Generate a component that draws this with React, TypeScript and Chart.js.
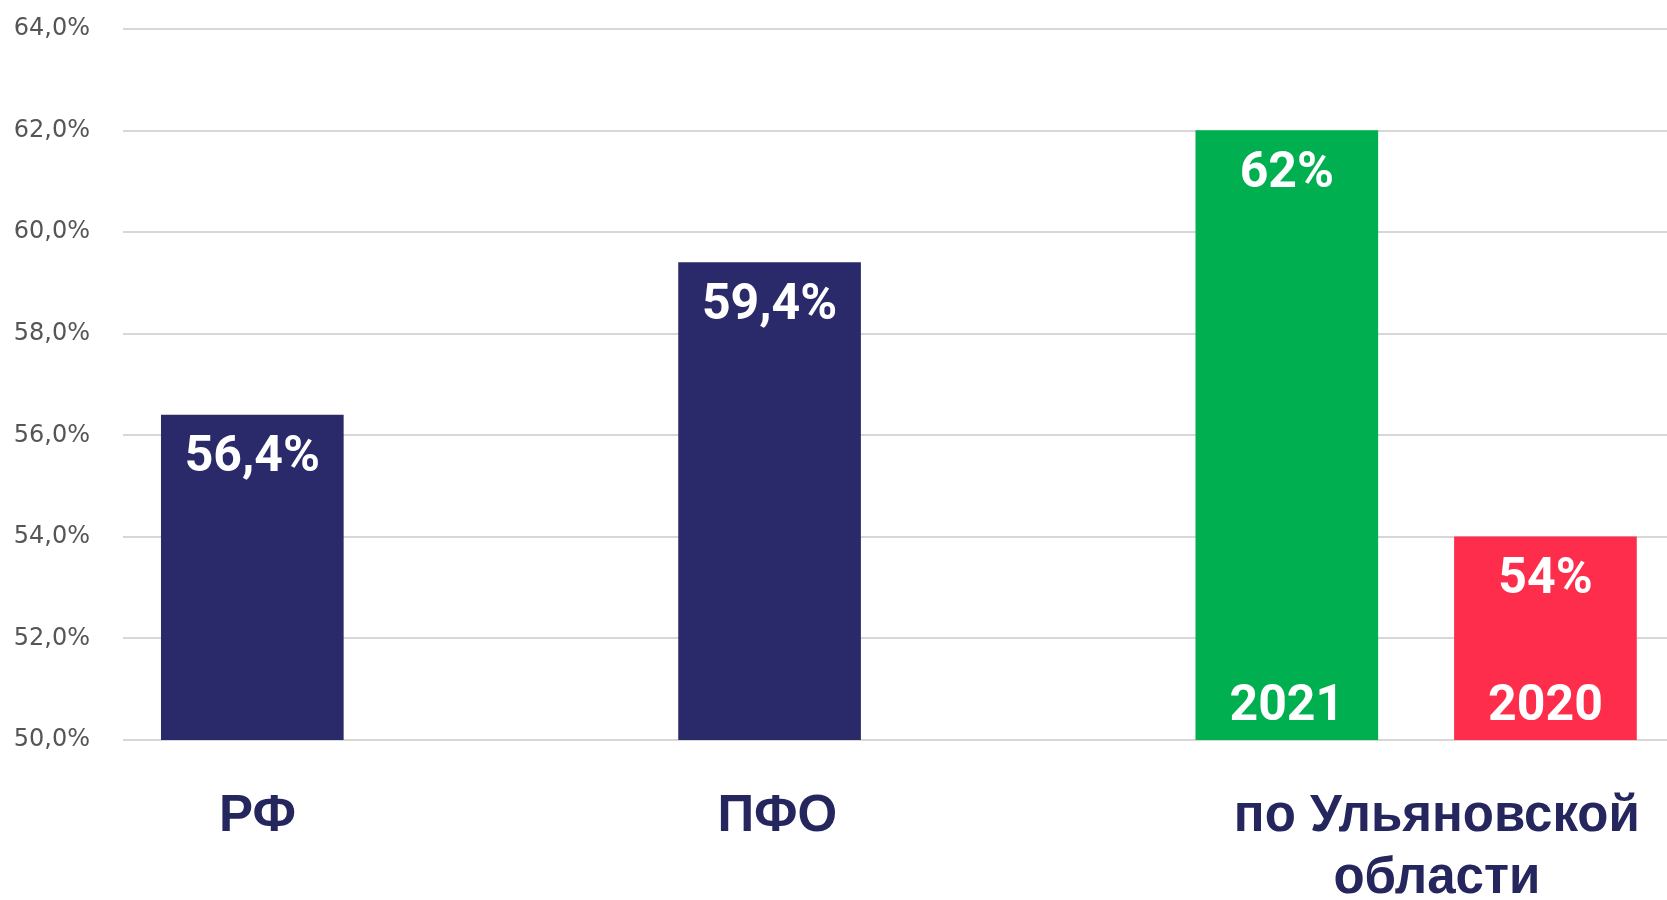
import React, { useEffect, useRef } from 'react';
import { Chart, registerables } from 'chart.js';

Chart.register(...registerables);

// ---- data ----
const barNames = ['РФ', 'ПФО', 'Ульяновская область 2021', 'Ульяновская область 2020'];
const barValues = [56.4, 59.4, 62, 54];
const barSlots = [0, 2, 4, 5];
const barYears = ['', '', '2021', '2020'];
const barColors = ['#2a2a6b', '#2a2a6b', '#00b050', '#fd2d4b'];
const groupLabels = [['РФ'], ['ПФО'], ['по Ульяновской', 'области']];
const groupSlots = [0.02, 2.03, 4.58];
const yMin = 50;
const yMax = 64;
const yStep = 2;

const fmtValue = (v: number) => String(v).replace('.', ',') + '%';
const fmtTick = (v: number) => v.toFixed(1).replace('.', ',') + '%';

const valueLabels = {
  id: 'valueLabels',
  afterDatasetsDraw(chart: any) {
    const ctx = chart.ctx;
    const meta = chart.getDatasetMeta(0);
    const base = chart.scales.y.getPixelForValue(yMin);
    ctx.save();
    ctx.fillStyle = '#ffffff';
    ctx.textAlign = 'center';
    ctx.textBaseline = 'middle';
    ctx.font = 'bold 50px Roboto';
    meta.data.forEach((bar: any, i: number) => {
      ctx.fillText(fmtValue(barValues[i]), bar.x, bar.y + 44);
      if (barYears[i]) ctx.fillText(barYears[i], bar.x, base - 33);
    });
    ctx.restore();
  },
};

export default function App() {
  const canvasRef = useRef<HTMLCanvasElement | null>(null);

  useEffect(() => {
    if (!canvasRef.current) return;
    const chart = new Chart(canvasRef.current, {
      type: 'bar',
      data: {
        labels: barNames,
        datasets: [
          {
            label: 'value',
            data: barValues.map((v, i) => ({ x: barSlots[i], y: v })),
            backgroundColor: barColors,
            borderWidth: 0,
            barThickness: 182,
          },
        ],
      },
      options: {
        animation: false,
        responsive: true,
        maintainAspectRatio: false,
        devicePixelRatio: 1,
        layout: { padding: { top: 29, left: 0, right: 0, bottom: 0 } },
        plugins: {
          legend: { display: false },
          tooltip: { enabled: false },
        },
        scales: {
          x: {
            type: 'linear',
            min: -0.5,
            max: 5.47,
            offset: false,
            bounds: 'data',
            grid: { display: false, drawTicks: false },
            border: { display: false },
            afterBuildTicks: (s: any) => {
              s.ticks = groupSlots.map((v) => ({ value: v }));
            },
            afterFit: (s: any) => {
              s.height = 160;
              s.paddingLeft = 0;
              s.paddingRight = 0;
            },
            ticks: {
              autoSkip: false,
              maxRotation: 0,
              minRotation: 0,
              padding: 46,
              color: '#26265f',
              font: { family: 'Liberation Sans', weight: 'bold', size: 51, lineHeight: 1.22 },
              callback: (_v: any, i: number) => groupLabels[i],
            },
          },
          y: {
            type: 'linear',
            min: yMin,
            max: yMax,
            beginAtZero: false,
            grid: { color: '#d7d7d7', lineWidth: 2, drawTicks: false },
            border: { display: false },
            afterFit: (s: any) => {
              s.width = 123;
              s.paddingTop = 0;
              s.paddingBottom = 0;
            },
            ticks: {
              stepSize: yStep,
              padding: 33,
              color: '#555555',
              font: { family: 'DejaVu Sans', size: 24 },
              callback: (v: any) => fmtTick(Number(v)),
            },
          },
        },
      },
      plugins: [valueLabels],
    } as any);
    return () => chart.destroy();
  }, []);

  return (
    <div
      style={{
        position: 'fixed',
        left: 0,
        top: 0,
        width: 1667,
        height: 900,
        background: '#ffffff',
        overflow: 'hidden',
      }}
    >
      <canvas ref={canvasRef} />
    </div>
  );
}
